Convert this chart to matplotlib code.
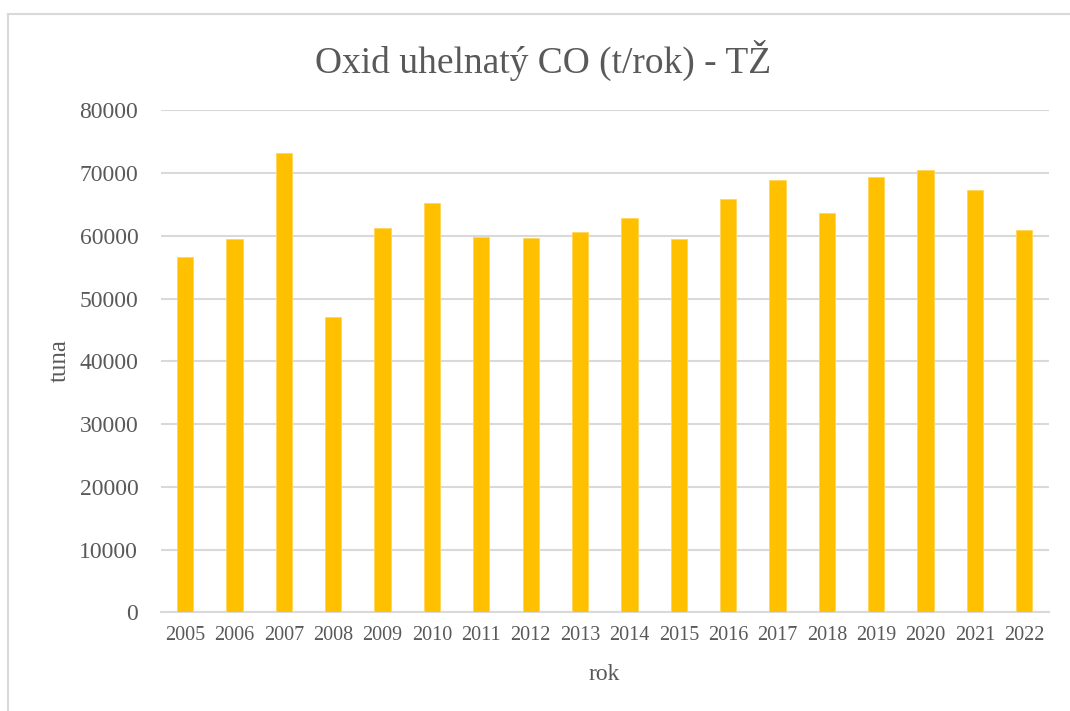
import matplotlib
matplotlib.use("Agg")
import matplotlib.pyplot as plt
from matplotlib.lines import Line2D

# Data
years = ["2005", "2006", "2007", "2008", "2009", "2010", "2011", "2012", "2013",
         "2014", "2015", "2016", "2017", "2018", "2019", "2020", "2021", "2022"]
co_tonnes = [56700, 59500, 73250, 47100, 61300, 65200, 59750, 59650, 60600,
             62900, 59550, 65800, 68950, 63700, 69300, 70550, 67300, 60900]
y_ticks = [0, 10000, 20000, 30000, 40000, 50000, 60000, 70000, 80000]

TEXT = "#595959"
GRID = "#D9D9D9"
BAR = "#FFC000"

plt.rcParams['font.family'] = ['Liberation Serif', 'DejaVu Serif']

fig = plt.figure(figsize=(10.70, 7.11), dpi=100)
W, H = 1070, 711

# chart area border: only the left and top edges are in the screenshot
bx, by = 8 / W, 1 - 14 / H
fig.add_artist(Line2D([bx, bx], [0, by], transform=fig.transFigure, color=GRID, linewidth=1.5))
fig.add_artist(Line2D([bx, 1], [by, by], transform=fig.transFigure, color=GRID, linewidth=1.5))

ax = fig.add_axes([160.5 / W, 1 - 612.3 / H, (1049 - 160.5) / W, (612.3 - 110.3) / H])
x = range(len(years))
ax.bar(x, co_tonnes, width=0.33, color=BAR, edgecolor="#FFD65A", linewidth=0.6, zorder=3)

ax.set_xlim(-0.5, len(years) - 0.5)
ax.set_ylim(0, 80000)
ax.set_yticks(y_ticks)
ax.set_yticklabels([str(t) for t in y_ticks])
ax.set_xticks(list(x))
ax.set_xticklabels(years)

ax.grid(axis="y", color=GRID, linewidth=1.5, zorder=0)
for s in ["top", "right", "left"]:
    ax.spines[s].set_visible(False)
ax.spines["bottom"].set_color(GRID)
ax.spines["bottom"].set_linewidth(1.5)
ax.tick_params(axis="both", length=0, colors=TEXT)
ax.tick_params(axis="y", labelsize=17, pad=16)
ax.tick_params(axis="x", labelsize=14.5, pad=10)

fig.text(543 / W, 1 - 60 / H, "Oxid uhelnatý CO (t/rok) - TŽ", ha="center", va="center",
         fontsize=27, color=TEXT)
fig.text(604.5 / W, 1 - 675 / H, "rok", ha="center", va="center", fontsize=17, color=TEXT)
fig.text(60 / W, 1 - 361 / H, "tuna", ha="center", va="center", rotation=90,
         fontsize=18, color=TEXT)

fig.savefig("out.png", dpi=100)
